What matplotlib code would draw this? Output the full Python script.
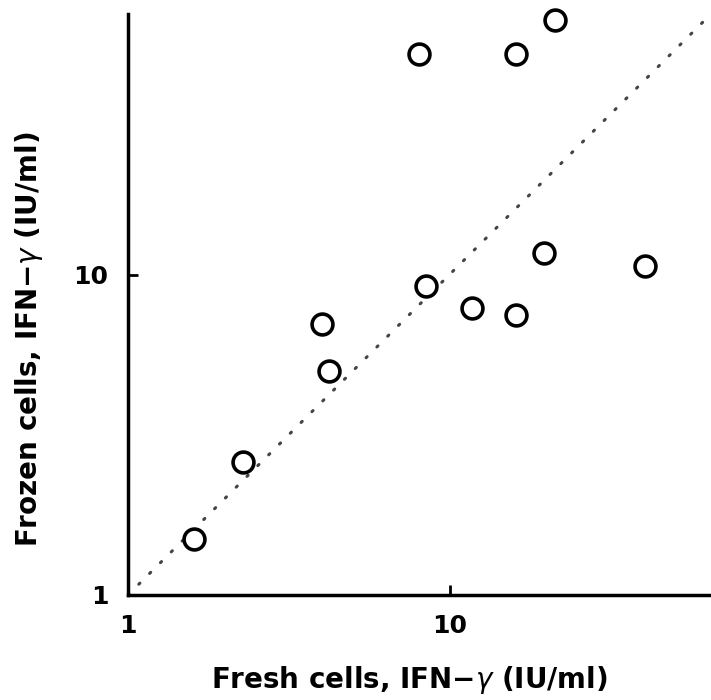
import numpy as np
import matplotlib.pyplot as plt

# IFN-gamma (IU/ml), fresh vs frozen cells
fresh = [1.60, 2.28, 4.0, 4.21, 8.42, 11.7, 16.1, 19.7, 40.6, 8.01, 16.1, 21.3]
frozen = [1.50, 2.60, 7.03, 5.01, 9.24, 7.88, 7.45, 11.7, 10.6, 48.7, 48.7, 62.2]

lim = (1, 65)

fig = plt.figure(figsize=(7.11, 7.00), dpi=100)
ax = fig.add_axes([0.18, 0.15, 0.82, 0.83])

# line of identity
ax.plot(lim, lim, linestyle=(0, (0.5, 4.5)), color="#444444", linewidth=2.2,
        dash_capstyle="round")

ax.plot(fresh, frozen, "o", markersize=15, markerfacecolor="white",
        markeredgecolor="black", markeredgewidth=2.6, linestyle="none",
        clip_on=False)

ax.set_xscale("log")
ax.set_yscale("log")
ax.set_xlim(lim)
ax.set_ylim(lim)

ax.spines["top"].set_visible(False)
ax.spines["right"].set_visible(False)
ax.spines["left"].set_linewidth(2.5)
ax.spines["bottom"].set_linewidth(2.5)

ax.set_xticks([1, 10])
ax.set_yticks([1, 10])
ax.set_xticklabels(["1", "10"])
ax.set_yticklabels(["1", "10"])
ax.minorticks_off()
ax.tick_params(which="major", direction="in", length=7, width=2,
               labelsize=18, pad=14)
for lab in ax.get_xticklabels() + ax.get_yticklabels():
    lab.set_fontweight("bold")

ax.set_xlabel("Fresh cells, IFN\u2212$\\gamma$ (IU/ml)", fontsize=20,
              fontweight="bold")
ax.set_ylabel("Frozen cells, IFN\u2212$\\gamma$ (IU/ml)", fontsize=20,
              fontweight="bold")
ax.xaxis.set_label_coords(0.482, -0.118)
ax.yaxis.set_label_coords(-0.143, 0.44)

fig.savefig("out.png", dpi=100)
